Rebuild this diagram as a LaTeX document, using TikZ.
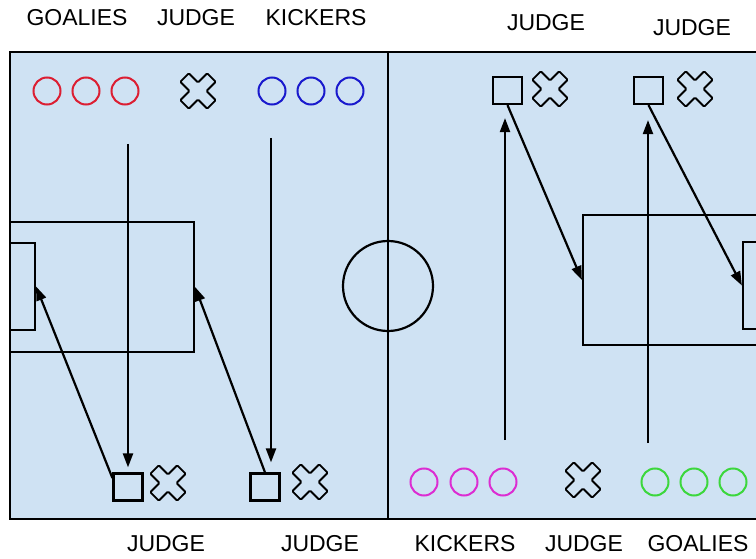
\documentclass[tikz,border=0pt]{standalone}
\usepackage{fontspec}
\setmainfont{Liberation Sans}
\usepackage{tikz}
\usetikzlibrary{arrows.meta}
\definecolor{pitch}{RGB}{207,226,243}
\definecolor{goalred}{RGB}{220,30,50}
\definecolor{kickblue}{RGB}{25,25,205}
\definecolor{kickpink}{RGB}{220,45,210}
\definecolor{goalgreen}{RGB}{60,215,60}
\tikzset{
    judgex/.pic={
        \draw[rotate=45,rounded corners=1pt,line width=1.8pt]
            (-6,19) -- (6,19) -- (6,6) -- (19,6) -- (19,-6) -- (6,-6)
            -- (6,-19) -- (-6,-19) -- (-6,-6) -- (-19,-6) -- (-19,6) -- (-6,6) -- cycle;
    }
}

\begin{document}
\begin{tikzpicture}[
        x=1pt,y=-1pt,
        line width=2.2pt,
        >={Triangle[length=14pt,width=10pt]},
        every node/.append style={font=\fontsize{23}{27}\selectfont}
    ]
    \tikzstyle{pl}=[draw,shape=circle,inner sep=0pt,minimum size=27pt,line width=2pt];
    \tikzstyle{sq}=[draw,shape=rectangle,inner sep=0pt,minimum width=29pt,minimum height=27pt];
    \tikzstyle{box}=[draw,shape=rectangle,inner sep=0pt];
    \useasboundingbox (0,0) rectangle (756,559);
    \clip (0,0) rectangle (756,559);
    % pitch
    \fill[pitch] (10,52) rectangle (780,519);
    \draw (10,52) rectangle (780,519);
    \draw (388,52) -- (388,519);
    \node[draw,shape=circle,inner sep=0pt,minimum size=90pt] (mid) at (388,286) {};
    \node[box,minimum width=184pt,minimum height=130pt] (penL) at (102,287) {};
    \node[box,minimum width=25pt,minimum height=87pt] (goalL) at (22.5,286.5) {};
    \node[box,minimum width=184pt,minimum height=130pt] (penR) at (675,280) {};
    \node[box,minimum width=25pt,minimum height=87pt] (goalR) at (755.5,285.5) {};
    % left half
    \begin{scope}
        \node (tg) at (77,18) {GOALIES};
        \node (tj) at (196,18) {JUDGE};
        \node (tk) at (316,18) {KICKERS};
        \node[pl,goalred] (g1) at (47,91) {};
        \node[pl,goalred] (g2) at (86,91) {};
        \node[pl,goalred] (g3) at (125,91) {};
        \pic at (198,91) {judgex};
        \node[pl,kickblue] (k1) at (272,91) {};
        \node[pl,kickblue] (k2) at (311,91) {};
        \node[pl,kickblue] (k3) at (350,91) {};
        \node[sq] (jL1) at (128,487) {};
        \pic at (168,483) {judgex};
        \node[sq] (jL2) at (265,487) {};
        \pic at (310,482) {judgex};
        \node (bj1) at (166,544) {JUDGE};
        \node (bj2) at (320,544) {JUDGE};
        \coordinate (sL1) at (128,144);
        \coordinate (sL2) at (271,138);
        \draw[->,shorten >=5pt] (sL1) -- (jL1.north);
        \draw[->,shorten >=10pt] (sL2) -- (sL2 |- jL2.north);
        \draw[->] (jL1.150) -- (goalL.east);
        \draw[->] (jL2.north) -- (penL.east);
    \end{scope}
    % right half
    \begin{scope}
        \node (tj2) at (546,23) {JUDGE};
        \node (tj3) at (692,28) {JUDGE};
        \node[sq] (jR1) at (507.5,90.5) {};
        \pic at (550,89) {judgex};
        \node[sq] (jR2) at (648.5,90.5) {};
        \pic at (695,89) {judgex};
        \node[pl,kickpink] (m1) at (424,482) {};
        \node[pl,kickpink] (m2) at (464,482) {};
        \node[pl,kickpink] (m3) at (503,482) {};
        \pic at (583,480) {judgex};
        \node[pl,goalgreen] (n1) at (655,482) {};
        \node[pl,goalgreen] (n2) at (694,482) {};
        \node[pl,goalgreen] (n3) at (733,482) {};
        \node (bk) at (465,544) {KICKERS};
        \node (bj3) at (584,544) {JUDGE};
        \node (bg) at (698,544) {GOALIES};
        \coordinate (sR1) at (505,440);
        \coordinate (sR2) at (648,443);
        \draw[->,shorten >=13pt] (sR1) -- (sR1 |- jR1.south);
        \draw[->,shorten >=15pt] (sR2) -- (sR2 |- jR2.south);
        \draw[->] (jR1.south) -- (penR.west);
        \draw[->] (jR2.south) -- (goalR.west);
    \end{scope}
\end{tikzpicture}
\end{document}
